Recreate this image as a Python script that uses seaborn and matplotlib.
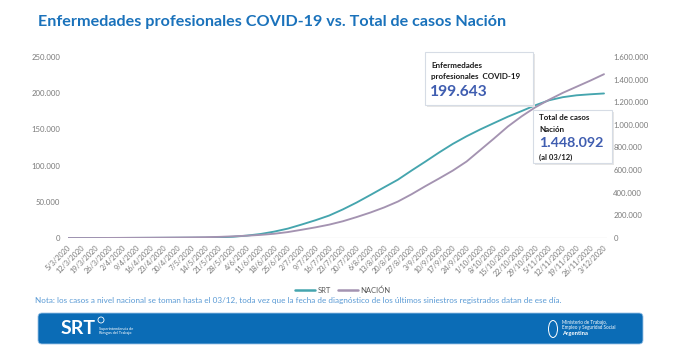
import matplotlib
matplotlib.use("Agg")
import matplotlib.pyplot as plt
import matplotlib.transforms as mtransforms
from matplotlib.patches import FancyBboxPatch, Rectangle, Ellipse
from matplotlib.lines import Line2D
from matplotlib.ticker import FuncFormatter, FixedLocator
import numpy as np
import pandas as pd
import seaborn as sns

# ---------------- data ----------------
fechas = ["5/3/2020", "12/3/2020", "19/3/2020", "26/3/2020", "2/4/2020", "9/4/2020",
          "16/4/2020", "23/4/2020", "30/4/2020", "7/5/2020", "14/5/2020", "21/5/2020",
          "28/5/2020", "4/6/2020", "11/6/2020", "18/6/2020", "25/6/2020", "2/7/2020",
          "9/7/2020", "16/7/2020", "23/7/2020", "30/7/2020", "6/8/2020", "13/8/2020",
          "20/8/2020", "27/8/2020", "3/9/2020", "10/9/2020", "17/9/2020", "24/9/2020",
          "1/10/2020", "8/10/2020", "15/10/2020", "22/10/2020", "29/10/2020", "5/11/2020",
          "12/11/2020", "19/11/2020", "26/11/2020", "3/12/2020"]

srt = [0, 0, 10, 40, 90, 150, 210, 270, 340, 420, 550, 900, 1700, 3300, 5500, 8800,
       13000, 18600, 24500, 31000, 39500, 49000, 59400, 70000, 80500, 93200, 105500,
       118100, 130000, 140500, 150000, 158800, 167500, 175300, 183300, 190200, 194500,
       197100, 198500, 199643]

nacion = [2, 31, 128, 502, 1133, 1795, 2443, 3435, 4428, 5611, 7134, 9931, 14702, 20197,
          27373, 37510, 52457, 72786, 94000, 118000, 148000, 185000, 225000, 270000,
          322000, 387000, 458000, 526000, 596000, 676000, 778000, 880000, 985000,
          1075000, 1155000, 1222000, 1283000, 1337000, 1391000, 1448092]

titulo = "Enfermedades profesionales COVID-19 vs. Total de casos Nación"
nota = ("Nota: los casos a nivel nacional se toman hasta el 03/12, toda vez que la fecha de "
        "diagnóstico de los últimos siniestros registrados datan de ese día.")
left_ticks = [0, 50000, 100000, 150000, 200000, 250000]
right_ticks = [0, 200000, 400000, 600000, 800000, 1000000, 1200000, 1400000, 1600000]

# ---------------- style ----------------
sns.set_style("white")
plt.rcParams["font.family"] = ["Lato", "DejaVu Sans"]

C_SRT = "#45a5ae"
C_NAC = "#a493b1"
C_TICK = "#7a7a7a"
C_TITLE = "#1a72bb"
C_BIG = "#3f5db0"

W, H = 680, 351
fig = plt.figure(figsize=(W / 100, H / 100), dpi=100)
fig.patch.set_facecolor("white")


def fx(x):
    return x / W


def fy(y):
    return 1 - y / H


PX = mtransforms.IdentityTransform()


def pxy(x, y):
    return (x, H - y)


# ---------------- axes ----------------
ax_l, ax_r, ax_t, ax_b = 68, 607, 57, 238
ax = fig.add_axes([fx(ax_l), fy(ax_b), fx(ax_r - ax_l), (ax_b - ax_t) / H])
ax2 = ax.twinx()

df = pd.DataFrame({"x": np.arange(len(fechas)), "fecha": fechas, "SRT": srt, "NACION": nacion})

sns.lineplot(data=df, x="x", y="SRT", ax=ax, color=C_SRT, lw=1.35, legend=False)
sns.lineplot(data=df, x="x", y="NACION", ax=ax2, color=C_NAC, lw=1.35, legend=False)

n = len(fechas)
ax.set_xlim(0, (ax_r - ax_l) / ((604 - 68) / (n - 1)))
ax.set_ylim(0, 250000)
ax2.set_ylim(0, 1600000)

fmt = FuncFormatter(lambda v, p: f"{int(round(v)):,}".replace(",", "."))
ax.yaxis.set_major_locator(FixedLocator(left_ticks))
ax2.yaxis.set_major_locator(FixedLocator(right_ticks))
ax.yaxis.set_major_formatter(fmt)
ax2.yaxis.set_major_formatter(fmt)

for a in (ax, ax2):
    for s in a.spines.values():
        s.set_visible(False)
    a.set_xlabel("")
    a.set_ylabel("")
    a.grid(False)
    a.set_facecolor("none")

ax.tick_params(axis="y", length=0, pad=5.5, labelsize=5.6, labelcolor=C_TICK)
ax2.tick_params(axis="y", length=0, pad=4.5, labelsize=5.6, labelcolor=C_TICK)

ax.set_xticks(np.arange(n))
ax.set_xticklabels(fechas, rotation=45, ha="right", va="center", rotation_mode="anchor",
                   fontsize=5.3, color=C_TICK)
ax.tick_params(axis="x", length=0, pad=6)
offset = mtransforms.ScaledTranslation(2 / 100, 0, fig.dpi_scale_trans)
for lab in ax.get_xticklabels():
    lab.set_transform(lab.get_transform() + offset)

ax.axhline(0, color="#d9d9d9", lw=0.9, zorder=0)

# ---------------- legend ----------------
handles = [Line2D([], [], color=C_SRT, lw=1.8), Line2D([], [], color=C_NAC, lw=1.8)]
leg = fig.legend(handles, ["SRT", "NACIÓN"], loc="center", bbox_to_anchor=(fx(343), fy(290)),
                 ncol=2, frameon=False, fontsize=5.5, handlelength=2.6, handletextpad=0.3,
                 columnspacing=1.0, labelcolor="#595959")

# ---------------- title & note ----------------
t = fig.text(fx(38), fy(22), titulo, fontsize=13, fontweight="bold", color=C_TITLE,
             ha="left", va="center")
nt = fig.text(fx(35), fy(300), nota, fontsize=5.5, color="#5b9bd5", ha="left", va="center")

fig.canvas.draw()
r = fig.canvas.get_renderer()
for txt, target in ((t, 505 - 38), (nt, 562 - 35)):
    bb = txt.get_window_extent(r)
    txt.set_fontsize(txt.get_fontsize() * target / bb.width)

# ---------------- annotation boxes ----------------
def box(x0, y0, x1, y1):
    sh = Rectangle(pxy(x0 + 1.5, y1 + 1.5), x1 - x0, y1 - y0, transform=PX,
                   facecolor="#e6e6e6", edgecolor="none", zorder=5)
    rc = Rectangle(pxy(x0, y1), x1 - x0, y1 - y0, transform=PX, facecolor="white",
                   edgecolor="#d6dce5", lw=0.8, zorder=6)
    fig.patches.extend([sh, rc])


box(425, 52, 533, 105)
box(533, 110, 612, 163)

fig.text(fx(431), fy(65), "Enfermedades", fontsize=5.8, fontweight="bold", color="#1a1a1a",
         ha="left", va="center", zorder=7)
fig.text(fx(431), fy(77), "profesionales  COVID-19", fontsize=5.8, fontweight="bold",
         color="#1a1a1a", ha="left", va="center", zorder=7)
fig.text(fx(430), fy(92), "199.643", fontsize=11.2, fontweight="bold", color=C_BIG,
         ha="left", va="center", zorder=7)

fig.text(fx(539), fy(118), "Total de casos", fontsize=5.8, fontweight="bold", color="#1a1a1a",
         ha="left", va="center", zorder=7)
fig.text(fx(539), fy(129), "Nación", fontsize=5.8, fontweight="bold", color="#1a1a1a",
         ha="left", va="center", zorder=7)
fig.text(fx(539), fy(143), "1.448.092", fontsize=10.3, fontweight="bold", color=C_BIG,
         ha="left", va="center", zorder=7)
fig.text(fx(539), fy(157), "(al 03/12)", fontsize=5.5, fontweight="bold", color="#1a1a1a",
         ha="left", va="center", zorder=7)

# ---------------- footer ----------------
band = FancyBboxPatch(pxy(38, 344), 643 - 38, 344 - 313, boxstyle="round,pad=0,rounding_size=4",
                      transform=PX, facecolor="#0b6cb6", edgecolor="#9cc3e6", lw=0.6, zorder=2)
fig.patches.append(band)

fig.text(fx(61), fy(329), "SRT", fontsize=14, fontweight="bold", color="white",
         ha="left", va="center", zorder=3)
circ = Ellipse(pxy(101, 320), 6, 6, transform=PX, facecolor="none", edgecolor="white",
               lw=0.6, zorder=3)
fig.patches.append(circ)
fig.text(fx(99), fy(331), "Superintendencia de\nRiesgos del Trabajo", fontsize=2.8,
         color="white", ha="left", va="center", linespacing=1.1, zorder=3)

emb = Ellipse(pxy(553, 329), 9, 17, transform=PX, facecolor="none", edgecolor="white",
              lw=0.7, zorder=3)
fig.patches.append(emb)
fig.text(fx(562), fy(325), "Ministerio de Trabajo,\nEmpleo y Seguridad Social", fontsize=3.3,
         color="white", ha="left", va="center", linespacing=1.1, zorder=3)
fig.text(fx(562), fy(333), "Argentina", fontsize=4.2, fontweight="bold", color="white",
         ha="left", va="center", zorder=3)

fig.savefig("out.png", dpi=100, facecolor="white")
